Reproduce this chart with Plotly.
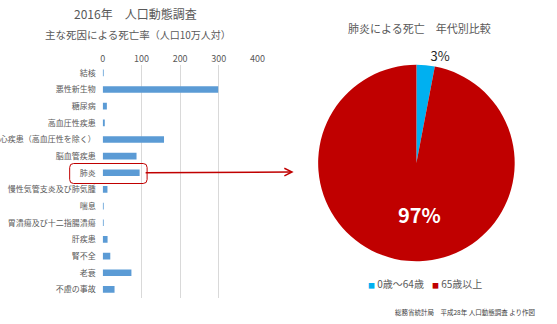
import plotly.graph_objects as go

# ---- data ----
causes = ["結核", "悪性新生物", "糖尿病", "高血圧性疾患", "心疾患（高血圧性を除く）",
          "脳血管疾患", "肺炎", "慢性気管支炎及び肺気腫", "喘息", "胃潰瘍及び十二指腸潰瘍",
          "肝疾患", "腎不全", "老衰", "不慮の事故"]
rates = [1.5, 298.3, 10.8, 5.4, 158.4, 87.4, 95.4, 12.3, 1.2, 2.2, 12.6, 19.6, 74.2, 30.6]
x_ticks = [0, 100, 200, 300, 400]

age_groups = ["0歳～64歳", "65歳以上"]
age_share = [3, 97]
age_colors = ["#00B0F0", "#C00000"]

W, H = 557, 324
FONT = "Noto Sans CJK JP"
GRAY = "#595959"


def px(x):
    return x / W


def py(y):
    return 1 - y / H


fig = go.Figure()

fig.add_trace(go.Bar(
    x=rates, y=causes, orientation="h",
    marker=dict(color="#5B9BD5", line=dict(width=0)),
    width=0.4, showlegend=False, hoverinfo="x+y",
))

fig.add_trace(go.Pie(
    labels=age_groups, values=age_share,
    marker=dict(colors=age_colors, line=dict(width=0)),
    sort=False, direction="clockwise", rotation=0,
    textinfo="percent", textposition=["outside", "none"],
    outsidetextfont=dict(size=13, color="#262626", family=FONT),
    domain=dict(x=[px(321.5), px(522)], y=[py(263.3), py(62.7)]),
    showlegend=False,
))

fig.update_layout(
    width=W, height=H, margin=dict(l=0, r=0, t=0, b=0),
    paper_bgcolor="white", plot_bgcolor="white",
    font=dict(family=FONT, color=GRAY),
    xaxis=dict(
        domain=[px(101.7), px(259.7)], range=[0, 400], side="top",
        tickvals=x_ticks, ticktext=[str(v) for v in x_ticks],
        showgrid=True, gridcolor="#D9D9D9", gridwidth=1,
        zeroline=False, showline=False, ticks="",
        tickfont=dict(size=9, color=GRAY, family=FONT), fixedrange=True,
    ),
    yaxis=dict(
        domain=[py(297.7), py(64.5)], autorange="reversed",
        showgrid=False, zeroline=False, showline=False, ticks="",
        tickfont=dict(size=8, color=GRAY, family=FONT),
        ticklabelstandoff=6, fixedrange=True,
    ),
)

ann = []
ann.append(dict(text="2016年　人口動態調査", x=px(135.5), y=py(14), xref="paper", yref="paper",
                showarrow=False, font=dict(size=12, color=GRAY), xanchor="center", yanchor="middle"))
ann.append(dict(text='主な死因による死亡率<span style="font-size:10px">（人口10万人対）</span>',
                x=px(137.5), y=py(34), xref="paper", yref="paper",
                showarrow=False, font=dict(size=10.5, color=GRAY), xanchor="center", yanchor="middle"))
ann.append(dict(text="肺炎による死亡　年代別比較", x=px(425), y=py(28), xref="paper", yref="paper",
                showarrow=False, font=dict(size=11, color=GRAY), xanchor="center", yanchor="middle"))
# large share label inside the big slice
total = sum(age_share)
ann.append(dict(text=f"<b>{round(age_share[1] / total * 100)}%</b>", x=px(425), y=py(214),
                xref="paper", yref="paper", showarrow=False,
                font=dict(size=20, color="white"), xanchor="center", yanchor="middle"))
# legend built from the data lists
for g, c, lx in zip(age_groups, age_colors, [370.5, 435.5]):
    ann.append(dict(text=f'<span style="color:{c}; font-size:7px">■</span> {g}',
                    x=px(lx), y=py(283.5), xref="paper", yref="paper",
                    showarrow=False, font=dict(size=10, color=GRAY),
                    xanchor="left", yanchor="middle"))
ann.append(dict(text="総務省統計局　平成28年 人口動態調査 より作図", x=px(545), y=py(312), xref="paper",
                yref="paper", showarrow=False, font=dict(size=6.5, color="#404040"),
                xanchor="right", yanchor="middle"))
# arrow from the highlighted label to the pie
ann.append(dict(x=px(296.5), y=py(172), ax=147 - 296.5, ay=0.8, xref="paper", yref="paper",
                axref="pixel", ayref="pixel", text="", showarrow=True, arrowhead=5,
                arrowsize=1.0, arrowwidth=1.5, arrowcolor="#C00000", standoff=0))
fig.update_layout(annotations=ann)

# rounded rectangle around 肺炎 label
x0, x1, y0, y1, r = 68, 147, 163.5, 183.5, 4
path = (f"M {px(x0 + r)} {py(y0)} L {px(x1 - r)} {py(y0)} "
        f"Q {px(x1)} {py(y0)} {px(x1)} {py(y0 + r)} L {px(x1)} {py(y1 - r)} "
        f"Q {px(x1)} {py(y1)} {px(x1 - r)} {py(y1)} L {px(x0 + r)} {py(y1)} "
        f"Q {px(x0)} {py(y1)} {px(x0)} {py(y1 - r)} L {px(x0)} {py(y0 + r)} "
        f"Q {px(x0)} {py(y0)} {px(x0 + r)} {py(y0)} Z")
fig.add_shape(type="path", path=path, xref="paper", yref="paper",
              line=dict(color="#C00000", width=1), fillcolor="rgba(0,0,0,0)")

fig.write_html("out.html")
